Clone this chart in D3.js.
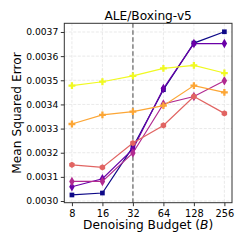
<!DOCTYPE html>
<html><head><meta charset="utf-8">
<script src="https://cdn.jsdelivr.net/npm/d3@7"></script>
<style>html,body{margin:0;padding:0;background:#fff;}svg{display:block;font-family:"DejaVu Sans",sans-serif;}</style>
</head><body>
<svg id="c" width="244" height="244"></svg>
<script>
const budgets = [8, 16, 32, 64, 128, 256];
const seriesNames = ["s0", "s1", "s2", "s3", "s4", "s5"];
const seriesColors = ["#0d0887", "#6a00a8", "#b12a90", "#e16462", "#fca636", "#f0f921"];
const seriesMarkers = ["square", "diamond", "diamond", "hexagon", "cross", "cross"];
const s0 = [0.003025, 0.003033, 0.003224, 0.003461, 0.003654, 0.003701];
const s1 = [0.003059, 0.003092, 0.003215, 0.003466, 0.003652, 0.003652];
const s2 = [0.003081, 0.003081, 0.003199, 0.003402, 0.003433, 0.003498];
const s3 = [0.003150, 0.003139, 0.003240, 0.003313, 0.003433, 0.003363];
const s4 = [0.003319, 0.003357, 0.003370, 0.003395, 0.003478, 0.003450];
const s5 = [0.003478, 0.003494, 0.003518, 0.003549, 0.003562, 0.003530];
const seriesValues = [s0, s1, s2, s3, s4, s5];
const yTicks = [0.0030, 0.0031, 0.0032, 0.0033, 0.0034, 0.0035, 0.0036, 0.0037];
const title = "ALE/Boxing-v5";
const yLabel = "Mean Squared Error";
const refBudget = 32;

const svg = d3.select("#c");
const L = 64.3, R = 232, T = 23.3, B = 202.7;
const x = d3.scaleLog().base(2).domain([8 * Math.pow(2, -0.25), 256 * Math.pow(2, 0.25)]).range([L, R]);
const y = d3.scaleLinear().domain([0.002993, 0.003736]).range([B, T]);

// grid
const g = svg.append("g");
g.selectAll(".gx").data(budgets).join("line")
  .attr("x1", d => x(d)).attr("x2", d => x(d)).attr("y1", T).attr("y2", B)
  .attr("stroke", "#e3e3e3").attr("stroke-width", 0.8).attr("stroke-dasharray", "3,1.5");
g.selectAll(".gy").data(yTicks).join("line")
  .attr("x1", L).attr("x2", R).attr("y1", d => y(d)).attr("y2", d => y(d))
  .attr("stroke", "#e3e3e3").attr("stroke-width", 0.8).attr("stroke-dasharray", "3,1.5");

// reference line
svg.append("line").attr("x1", x(refBudget)).attr("x2", x(refBudget)).attr("y1", T).attr("y2", B)
  .attr("stroke", "#808080").attr("stroke-width", 1.5).attr("stroke-dasharray", "4.5,2.5");

// series
const hexagon = {draw(ctx, size) { const r = Math.sqrt(size / 2.598); for (let i = 0; i < 6; i++) { const a = Math.PI / 3 * i + Math.PI / 6; const px = r * Math.cos(a), py = r * Math.sin(a); if (i === 0) ctx.moveTo(px, py); else ctx.lineTo(px, py);} ctx.closePath(); }};
const symMap = {square: [d3.symbolSquare, 22], diamond: [d3.symbolDiamond, 26], hexagon: [hexagon, 26], cross: [d3.symbolCross, 26]};
const line = d3.line().x((d, i) => x(budgets[i])).y(d => y(d));
seriesValues.forEach((vals, si) => {
  const col = seriesColors[si];
  svg.append("path").datum(vals).attr("d", line).attr("fill", "none").attr("stroke", col).attr("stroke-width", 1.2);
  const [typ, sz] = symMap[seriesMarkers[si]];
  svg.selectAll(null).data(vals).join("path")
    .attr("transform", (d, i) => `translate(${x(budgets[i])},${y(d)})`)
    .attr("d", d3.symbol().type(typ).size(sz)).attr("fill", col);
});

// frame
svg.append("rect").attr("x", L).attr("y", T).attr("width", R - L).attr("height", B - T)
  .attr("fill", "none").attr("stroke", "#333").attr("stroke-width", 1);

// axes
const xa = svg.append("g").attr("transform", `translate(0,${B})`)
  .call(d3.axisBottom(x).tickValues(budgets).tickFormat(d3.format("d")).tickSize(3.5).tickPadding(3.5));
const ya = svg.append("g").attr("transform", `translate(${L},0)`)
  .call(d3.axisLeft(y).tickValues(yTicks).tickFormat(d3.format(".4f")).tickSize(3.5).tickPadding(2.5));
[xa, ya].forEach(a => { a.select(".domain").remove(); a.selectAll("line").attr("stroke", "#333"); a.selectAll("text").attr("fill", "#000").attr("font-family", "DejaVu Sans"); });
xa.selectAll("text").attr("font-size", 9.8);
ya.selectAll("text").attr("font-size", 9.2);

// labels
svg.append("text").attr("x", (L + R) / 2).attr("y", 19.5).attr("text-anchor", "middle")
  .attr("font-size", 12.2).attr("fill", "#000").text(title);
const xl = svg.append("text").attr("x", (L + R) / 2).attr("y", 228.5).attr("text-anchor", "middle")
  .attr("font-size", 12.2).attr("fill", "#000");
xl.append("tspan").text("Denoising Budget (");
xl.append("tspan").attr("font-style", "italic").text("B");
xl.append("tspan").text(")");
svg.append("text").attr("transform", `translate(21,${(T + B) / 2}) rotate(-90)`).attr("text-anchor", "middle")
  .attr("font-size", 12.2).attr("fill", "#000").text(yLabel);
</script>
</body></html>
